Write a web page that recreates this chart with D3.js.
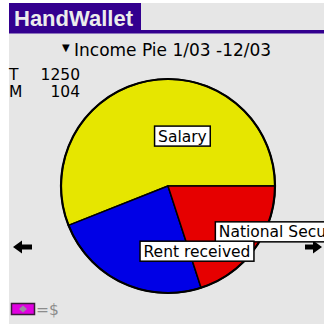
<!DOCTYPE html>
<html>
<head>
<meta charset="utf-8">
<script src="https://cdn.jsdelivr.net/npm/d3@7"></script>
<style>
  html, body { margin: 0; padding: 0; background: #ffffff; }
  svg { display: block; }
</style>
</head>
<body>
<script>
// Income categories and yearly totals (1/03 - 12/03)
const categories = ["Salary", "Rent received", "National Security"];
const amounts = [700, 300, 250];
const sliceColors = ["#e6e600", "#0000e6", "#e60000"];
const appTitle = "HandWallet";
const chartTitle = "Income Pie 1/03 -12/03";
const months = 12;

const W = 324, H = 324;
const svg = d3.select("body").append("svg").attr("width", W).attr("height", H);

// device screen background
svg.append("rect").attr("x", 9).attr("y", 3).attr("width", W - 9).attr("height", H - 3).attr("fill", "#e6e6e6");

// title tab and rule
const purple = "#33008f";
svg.append("rect").attr("x", 9).attr("y", 30).attr("width", W - 9).attr("height", 3.5).attr("fill", purple);
svg.append("rect").attr("x", 9).attr("y", 3).attr("width", 132).attr("height", 30).attr("fill", purple);
svg.append("text").attr("x", 14).attr("y", 26)
  .attr("font-family", "Liberation Sans, Arial, sans-serif").attr("font-weight", "bold")
  .attr("font-size", 22).attr("fill", "#ececec").text(appTitle);

// chart title with dropdown marker
svg.append("text").attr("x", 62).attr("y", 51)
  .attr("font-family", "DejaVu Sans, sans-serif").attr("font-size", 10).attr("fill", "#000").text("▼");
svg.append("text").attr("x", 74).attr("y", 56)
  .attr("font-family", "DejaVu Sans, sans-serif").attr("font-size", 17).attr("fill", "#000").text(chartTitle);

// total and monthly average
const total = d3.sum(amounts);
const stats = [["T", total], ["M", Math.round(total / months)]];
const statG = svg.append("g").attr("font-family", "DejaVu Sans, sans-serif").attr("font-size", 15.5).attr("fill", "#000");
stats.forEach((s, i) => {
  statG.append("text").attr("x", 9).attr("y", 80 + i * 17).text(s[0]);
  statG.append("text").attr("x", 80).attr("y", 80 + i * 17).attr("text-anchor", "end").text(s[1]);
});

// pie, starting at 3 o'clock and running counter-clockwise
const cx = 168, cy = 186, R = 107;
const pie = d3.pie().sort(null).value(d => d.v)
  .startAngle(Math.PI / 2).endAngle(Math.PI / 2 - 2 * Math.PI);
const data = categories.map((c, i) => ({ name: c, v: amounts[i], color: sliceColors[i] }));
const arcs = pie(data);
const arc = d3.arc().innerRadius(0).outerRadius(R);
const labelArc = d3.arc().innerRadius(R * 0.57).outerRadius(R * 0.57);

const pieG = svg.append("g").attr("transform", `translate(${cx},${cy})`);
pieG.selectAll("path.slice").data(arcs).join("path")
  .attr("class", "slice")
  .attr("d", arc)
  .attr("fill", d => d.data.color)
  .attr("stroke", "#000").attr("stroke-width", 1.5).attr("stroke-linejoin", "round");
pieG.append("circle").attr("r", R).attr("fill", "none").attr("stroke", "#000").attr("stroke-width", 2.2);

// navigation arrows
svg.append("path")
  .attr("d", "M13,247 L22,240.5 L22,244.5 L32,244.5 L32,249.5 L22,249.5 L22,253.5 Z")
  .attr("fill", "#000");
svg.append("path")
  .attr("d", "M322,247 L313,240.5 L313,244.5 L305,244.5 L305,249.5 L313,249.5 L313,253.5 Z")
  .attr("fill", "#000");

// slice labels in boxes, drawn Salary, National Security, Rent received
const labelOrder = [0, 2, 1];
labelOrder.forEach(i => {
  const a = arcs[i];
  const [lx, ly] = labelArc.centroid(a);
  const left = cx + lx - 2, top = cy + ly;
  const g = svg.append("g");
  const box = g.append("rect");
  const t = g.append("text").attr("x", left + 3.5).attr("y", top + 15.5)
    .attr("font-family", "DejaVu Sans, sans-serif").attr("font-size", 15.5).attr("fill", "#000")
    .text(a.data.name);
  const w = t.node().getComputedTextLength();
  box.attr("x", left).attr("y", top).attr("width", w + 7).attr("height", 20)
    .attr("fill", "#fff").attr("stroke", "#000").attr("stroke-width", 1.5);
});

// currency indicator
svg.append("rect").attr("x", 11.5).attr("y", 303.5).attr("width", 23).attr("height", 11)
  .attr("fill", "#e000e0").attr("stroke", "#3a1a3a").attr("stroke-width", 1.5);
svg.append("path").attr("d", "M23,305.5 L27,309 L23,312.5 L19,309 Z").attr("fill", "#9a8aa0");
svg.append("text").attr("x", 36).attr("y", 315)
  .attr("font-family", "DejaVu Sans, sans-serif").attr("font-size", 15.5).attr("fill", "#8c8c8c").text("=$");
</script>
</body>
</html>
